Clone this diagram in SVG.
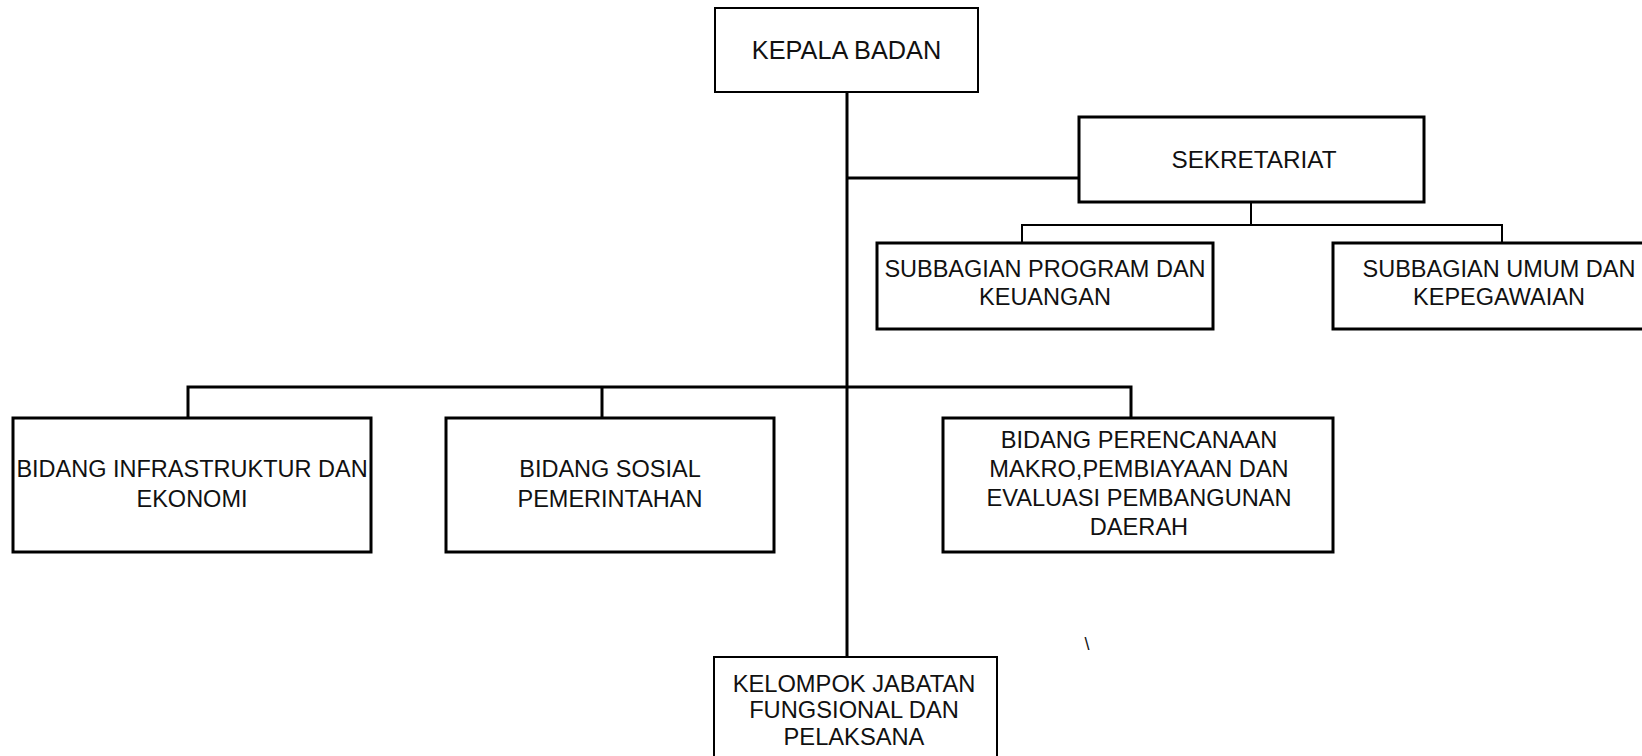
<svg xmlns="http://www.w3.org/2000/svg" width="1642" height="756" viewBox="0 0 1642 756">
<style>
.box{fill:#fff;stroke:#000;stroke-width:3}
.thin{stroke-width:2}
.t{font-family:"Liberation Sans",Arial,sans-serif;font-size:23.5px;fill:#111;text-anchor:middle}
.c{fill:none;stroke:#000;stroke-width:3}
.c2{fill:none;stroke:#000;stroke-width:2}
</style>
<rect width="1642" height="756" fill="#fff"/>
<g id="connectors">
<line class="c" x1="847" y1="92" x2="847" y2="657"/>
<line class="c" x1="847" y1="178" x2="1079" y2="178"/>
<polyline class="c2" points="1251,202 1251,225"/>
<polyline class="c2" points="1022,243 1022,225 1502,225 1502,243"/>
<polyline class="c" points="188,418 188,387 1131,387 1131,418"/>
<line class="c" x1="602" y1="387" x2="602" y2="418"/>
</g>
<g id="kepala">
<rect class="box thin" x="715" y="8" width="263" height="84"/>
<text class="t" x="846.5" y="59" style="font-size:25.3px">KEPALA BADAN</text>
</g>
<g id="sekretariat">
<rect class="box" x="1079" y="117" width="345" height="85"/>
<text class="t" x="1254" y="168" style="font-size:24.3px">SEKRETARIAT</text>
</g>
<g id="subbagian-program">
<rect class="box" x="877" y="243" width="336" height="86"/>
<text class="t" x="1045" y="277">SUBBAGIAN PROGRAM DAN</text>
<text class="t" x="1045" y="305">KEUANGAN</text>
</g>
<g id="subbagian-umum">
<rect class="box" x="1333" y="243" width="334" height="86"/>
<text class="t" x="1499" y="277">SUBBAGIAN UMUM DAN</text>
<text class="t" x="1499" y="305">KEPEGAWAIAN</text>
</g>
<g id="bidang-infrastruktur">
<rect class="box" x="13" y="418" width="358" height="134"/>
<text class="t" x="192" y="477">BIDANG INFRASTRUKTUR DAN</text>
<text class="t" x="192" y="507">EKONOMI</text>
</g>
<g id="bidang-sosial">
<rect class="box" x="446" y="418" width="328" height="134"/>
<text class="t" x="610" y="477">BIDANG SOSIAL</text>
<text class="t" x="610" y="507">PEMERINTAHAN</text>
</g>
<g id="bidang-perencanaan">
<rect class="box" x="943" y="418" width="390" height="134"/>
<text class="t" x="1139" y="448" style="font-size:23.6px">BIDANG PERENCANAAN</text>
<text class="t" x="1139" y="477" style="font-size:23.6px">MAKRO,PEMBIAYAAN DAN</text>
<text class="t" x="1139" y="506" style="font-size:23.6px">EVALUASI PEMBANGUNAN</text>
<text class="t" x="1139" y="535" style="font-size:23.6px">DAERAH</text>
</g>
<g id="kelompok">
<rect class="box thin" x="714" y="657" width="283" height="110"/>
<text class="t" x="854" y="692" style="font-size:23.7px">KELOMPOK JABATAN</text>
<text class="t" x="854" y="718" style="font-size:23.7px">FUNGSIONAL DAN</text>
<text class="t" x="854" y="745" style="font-size:23.7px">PELAKSANA</text>
</g>
<text x="1087" y="650" font-family="Liberation Sans, Arial, sans-serif" font-size="18" fill="#111" text-anchor="middle">\</text>
</svg>
